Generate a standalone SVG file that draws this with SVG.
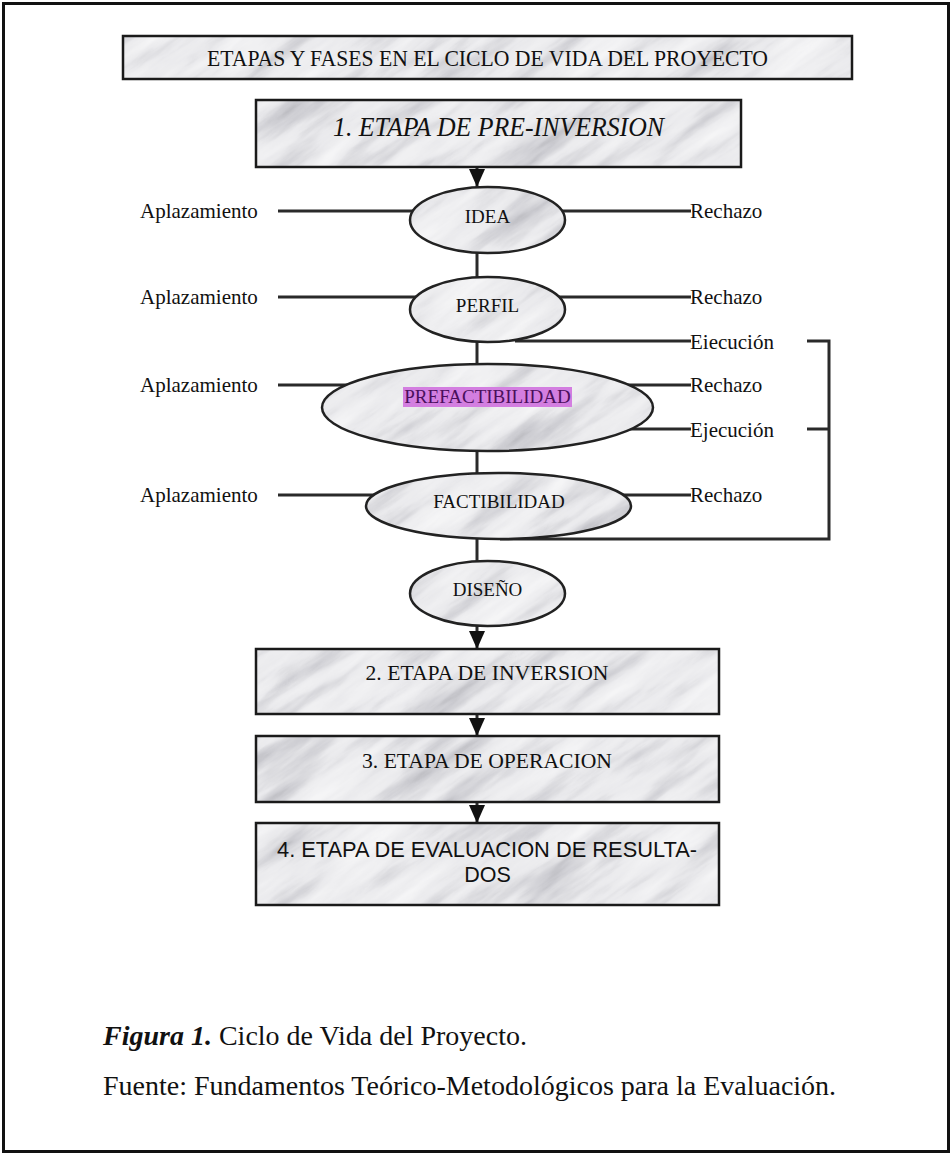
<svg xmlns="http://www.w3.org/2000/svg" width="952" height="1156" viewBox="0 0 952 1156">
<defs>
  <filter id="marbleF" x="0" y="0" width="100%" height="100%" color-interpolation-filters="sRGB">
    <feTurbulence type="fractalNoise" baseFrequency="0.008 0.045" numOctaves="5" seed="11" stitchTiles="stitch" result="n"/>
    <feColorMatrix in="n" type="matrix" values="0.33 0.33 0.33 0 0  0.33 0.33 0.33 0 0  0.33 0.33 0.33 0 0  0 0 0 0 1" result="g"/>
    <feComponentTransfer in="g">
      <feFuncR type="table" tableValues="0.5 0.62 0.8 0.92 0.96 0.98 0.99"/>
      <feFuncG type="table" tableValues="0.5 0.62 0.8 0.92 0.96 0.98 0.99"/>
      <feFuncB type="table" tableValues="0.52 0.64 0.82 0.93 0.965 0.98 0.99"/>
    </feComponentTransfer>
  </filter>
  <pattern id="marble" patternUnits="userSpaceOnUse" width="400" height="400" patternTransform="rotate(-35)">
    <rect width="400" height="400" filter="url(#marbleF)"/>
  </pattern>
  <marker id="arrow" markerUnits="userSpaceOnUse" markerWidth="18" markerHeight="18" refX="18" refY="8" orient="auto">
    <path d="M0,0 L18,8 L0,16 z" fill="#111"/>
  </marker>
  <style>
    .box { fill: url(#marble); stroke: #1a1a1a; stroke-width: 2.5; }
    .ell { fill: url(#marble); stroke: #222; stroke-width: 2.5; }
    .ln { stroke: #2a2a2a; stroke-width: 3; fill: none; }
    .serif { font-family: "Liberation Serif", "Times New Roman", serif; fill: #111; }
    .sans { font-family: "Liberation Sans", Arial, sans-serif; fill: #111; }
    .lbl { font-size: 21px; }
    .node { font-size: 19px; text-anchor: middle; }
    .stage { font-size: 22px; text-anchor: middle; }
  </style>
</defs>

<rect x="3.5" y="3.5" width="945" height="1148" fill="#fff" stroke="#111" stroke-width="3"/>

<g id="connectors">
  <line class="ln" x1="477" y1="167" x2="477" y2="187" marker-end="url(#arrow)"/>
  <line class="ln" x1="477" y1="250" x2="477" y2="280"/>
  <line class="ln" x1="477" y1="335" x2="477" y2="368"/>
  <line class="ln" x1="477" y1="448" x2="477" y2="476"/>
  <line class="ln" x1="477" y1="535" x2="477" y2="564"/>
  <line class="ln" x1="477" y1="624" x2="477" y2="649" marker-end="url(#arrow)"/>
  <line class="ln" x1="477" y1="714" x2="477" y2="736" marker-end="url(#arrow)"/>
  <line class="ln" x1="477" y1="802" x2="477" y2="823" marker-end="url(#arrow)"/>
  <line class="ln" x1="278" y1="211" x2="420" y2="211"/>
  <line class="ln" x1="278" y1="297" x2="420" y2="297"/>
  <line class="ln" x1="278" y1="385" x2="360" y2="385"/>
  <line class="ln" x1="278" y1="495" x2="380" y2="495"/>
  <line class="ln" x1="555" y1="211" x2="691" y2="211"/>
  <line class="ln" x1="555" y1="297" x2="691" y2="297"/>
  <line class="ln" x1="620" y1="385" x2="691" y2="385"/>
  <line class="ln" x1="620" y1="495" x2="691" y2="495"/>
  <line class="ln" x1="515" y1="341" x2="691" y2="341"/>
  <line class="ln" x1="625" y1="429" x2="691" y2="429"/>
  <polyline class="ln" points="807,341 829,341 829,539 500,539"/>
  <line class="ln" x1="807" y1="429" x2="829" y2="429"/>
</g>

<g id="title">
  <rect class="box" x="123" y="36" width="729" height="43"/>
  <text class="serif" x="487.5" y="66" font-size="24" text-anchor="middle" textLength="561" lengthAdjust="spacingAndGlyphs">ETAPAS Y FASES EN EL CICLO DE VIDA DEL PROYECTO</text>
</g>

<g id="etapa1">
  <rect class="box" x="256" y="100" width="485" height="67"/>
  <text class="serif" x="498.5" y="136" font-size="27" font-style="italic" text-anchor="middle" textLength="331" lengthAdjust="spacingAndGlyphs">1. ETAPA DE PRE-INVERSION</text>
</g>

<g id="idea">
  <ellipse class="ell" cx="487.5" cy="220" rx="77.5" ry="33"/>
  <text class="serif node" x="487.5" y="223">IDEA</text>
</g>

<g id="perfil">
  <ellipse class="ell" cx="487.5" cy="309.5" rx="77.5" ry="32.5"/>
  <text class="serif node" x="487.5" y="312">PERFIL</text>
</g>

<g id="prefactibilidad">
  <ellipse class="ell" cx="487.5" cy="407.5" rx="165.5" ry="43.5"/>
  <rect x="403" y="387" width="169" height="20" fill="#d37ee0"/>
  <text class="serif node" x="487.5" y="403" style="fill:#4a0f5c">PREFACTIBILIDAD</text>
</g>

<g id="factibilidad">
  <ellipse class="ell" cx="498.5" cy="506" rx="132.5" ry="33"/>
  <text class="serif node" x="499" y="508">FACTIBILIDAD</text>
</g>

<g id="diseno">
  <ellipse class="ell" cx="487.5" cy="593.5" rx="77.5" ry="32.5"/>
  <text class="serif node" x="487.5" y="596">DISEÑO</text>
</g>

<g id="etapa2">
  <rect class="box" x="256" y="649" width="463" height="65"/>
  <text class="serif stage" x="487" y="680" textLength="243" lengthAdjust="spacingAndGlyphs">2. ETAPA DE INVERSION</text>
</g>

<g id="etapa3">
  <rect class="box" x="256" y="736" width="463" height="66"/>
  <text class="serif stage" x="487" y="768" textLength="250" lengthAdjust="spacingAndGlyphs">3. ETAPA DE OPERACION</text>
</g>

<g id="etapa4">
  <rect class="box" x="256" y="823" width="463" height="82"/>
  <text class="sans" x="487" y="857" font-size="21.5" text-anchor="middle" textLength="420" lengthAdjust="spacingAndGlyphs">4. ETAPA DE EVALUACION DE RESULTA-</text>
  <text class="sans" x="487.5" y="882" font-size="21.5" text-anchor="middle">DOS</text>
</g>

<g id="labels">
  <text class="serif lbl" x="140" y="218">Aplazamiento</text>
  <text class="serif lbl" x="140" y="304">Aplazamiento</text>
  <text class="serif lbl" x="140" y="392">Aplazamiento</text>
  <text class="serif lbl" x="140" y="502">Aplazamiento</text>
  <text class="serif lbl" x="690" y="218">Rechazo</text>
  <text class="serif lbl" x="690" y="304">Rechazo</text>
  <text class="serif lbl" x="690" y="392">Rechazo</text>
  <text class="serif lbl" x="690" y="502">Rechazo</text>
  <text class="serif lbl" x="690" y="349">Eiecución</text>
  <text class="serif lbl" x="690" y="437">Ejecución</text>
</g>

<g id="caption">
  <text class="serif" x="103" y="1045" font-size="28"><tspan font-weight="bold" font-style="italic">Figura 1.</tspan> Ciclo de Vida del Proyecto.</text>
  <text class="serif" x="103" y="1095" font-size="28">Fuente: Fundamentos Teórico-Metodológicos para la Evaluación.</text>
</g>
</svg>
